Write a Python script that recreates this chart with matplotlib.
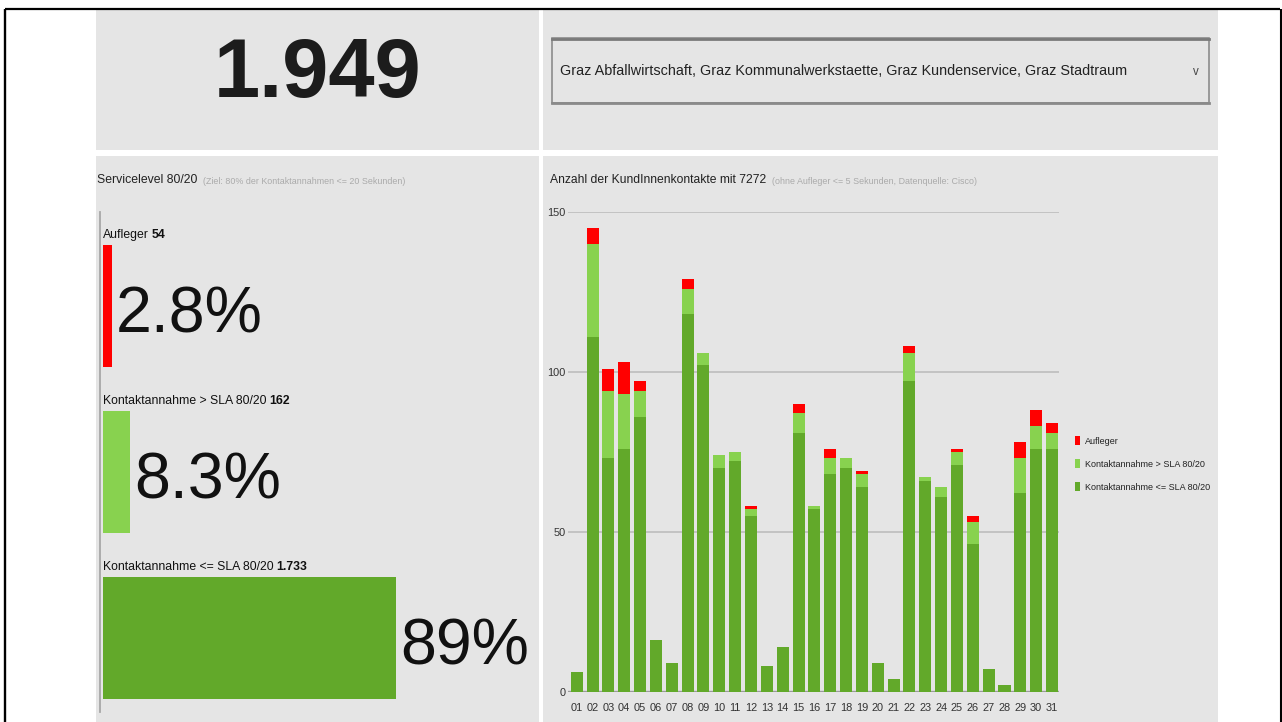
import matplotlib
matplotlib.use('Agg')
import matplotlib.pyplot as plt
from matplotlib.patches import Rectangle, Patch
from matplotlib import font_manager as fm

# ---------------- data ----------------
days = [f"{d:02d}" for d in range(1, 32)]
within_sla = [6, 111, 73, 76, 86, 16, 9, 118, 102, 70, 72, 55, 8, 14, 81, 57,
              68, 70, 64, 9, 4, 97, 66, 61, 71, 46, 7, 2, 62, 76, 76]
over_sla = [0, 29, 21, 17, 8, 0, 0, 8, 4, 4, 3, 2, 0, 0, 6, 1,
            5, 3, 4, 0, 0, 9, 1, 3, 4, 7, 0, 0, 11, 7, 5]
aufleger = [0, 5, 7, 10, 3, 0, 0, 3, 0, 0, 0, 1, 0, 0, 3, 0,
            3, 0, 1, 0, 0, 2, 0, 0, 1, 2, 0, 0, 5, 5, 3]
y_ticks = [0, 50, 100, 150]

series_labels = ['Aufleger', 'Kontaktannahme > SLA 80/20', 'Kontaktannahme <= SLA 80/20']
sla_counts = [54, 162, 1733]
sla_count_labels = ['54', '162', '1.733']
total_label = '1.949'
dropdown_text = 'Graz Abfallwirtschaft, Graz Kommunalwerkstaette, Graz Kundenservice, Graz Stadtraum'
left_title = 'Servicelevel 80/20'
left_sub = '(Ziel: 80% der Kontaktannahmen <= 20 Sekunden)'
right_title = 'Anzahl der KundInnenkontakte mit 7272'
right_sub = '(ohne Aufleger <= 5 Sekunden, Datenquelle: Cisco)'

RED = '#ff0000'
LIGHT = '#88d24f'
DARK = '#62a92a'
PANEL = '#e5e5e5'


def pick(names):
    for n in names:
        try:
            fm.findfont(fm.FontProperties(family=n), fallback_to_default=False)
            return n
        except Exception:
            pass
    return 'DejaVu Sans'


FONT = pick(['Liberation Sans Narrow', 'Arial Narrow', 'Liberation Sans', 'Arimo', 'DejaVu Sans'])
S = 1.0 if 'Narrow' in FONT else 0.83
plt.rcParams['font.family'] = [FONT, 'DejaVu Sans']

W, H = 1282, 722
fig = plt.figure(figsize=(W / 100, H / 100), dpi=100)
fig.patch.set_facecolor('white')


def fx(px):
    return px / W


def fy(py):
    return 1 - py / H


# ---------------- background / panels ----------------
bg = fig.add_axes([0, 0, 1, 1])
bg.set_xlim(0, W)
bg.set_ylim(H, 0)
bg.axis('off')

for (x0, y0, w, h) in [(96, 10, 443, 140), (543, 10, 675, 140),
                       (96, 156, 443, 566), (543, 156, 675, 566)]:
    bg.add_patch(Rectangle((x0, y0), w, h, facecolor=PANEL, edgecolor='none', zorder=0))

# outer black frame
bg.plot([4.5, 1280], [9.3, 9.3], color='black', lw=1.6, solid_capstyle='butt', zorder=5)
bg.plot([4.5, 4.5], [9.3, 722], color='black', lw=1.7, solid_capstyle='butt', zorder=5)
bg.plot([1280.5, 1280.5], [9.3, 722], color='black', lw=1.5, solid_capstyle='butt', zorder=5)

# big total
bg.text(318, 97, total_label, ha='center', va='baseline', fontsize=72 * S,
        fontweight='bold', color='#1c1c1c')

# dropdown
bg.add_patch(Rectangle((552, 38), 657, 65, facecolor='none', edgecolor='#8c8c8c', lw=1.2, zorder=2))
bg.plot([552, 1209], [38.5, 38.5], color='#7a7a7a', lw=2.0, zorder=3)
bg.plot([552, 1209], [102.5, 102.5], color='#8a8a8a', lw=2.0, zorder=3)
bg.text(560, 71, dropdown_text, ha='left', va='center', fontsize=12.5 * S, color='#222')
bg.text(1196, 72, 'v', ha='center', va='center', fontsize=10 * S, color='#444')

# panel titles
t = bg.text(97, 183, left_title, ha='left', va='baseline', fontsize=10.6 * S, color='#222')
bg.annotate(left_sub, xy=(1, 0), xycoords=t, xytext=(6, 0), textcoords='offset pixels',
            ha='left', va='bottom', fontsize=7.7 * S, color='#aaaaaa')
t = bg.text(550, 183, right_title, ha='left', va='baseline', fontsize=10.5 * S, color='#222')
bg.annotate(right_sub, xy=(1, 0), xycoords=t, xytext=(6, 0), textcoords='offset pixels',
            ha='left', va='bottom', fontsize=7.7 * S, color='#aaaaaa')

# left vertical rule
bg.plot([100, 100], [212, 712], color='#a8a8a8', lw=1.3, zorder=2)

# ---------------- left SLA bars ----------------
axl = fig.add_axes([fx(102.5), fy(721.5), fx(432.5) - fx(102.5), fy(223) - fy(721.5)])
axl.axis('off')
axl.set_xlim(0, 100)
axl.set_ylim(2.5, -0.5)
total = sum(sla_counts)
pcts = [c / total * 100 for c in sla_counts]
bh = 0.734
axl.barh(range(len(pcts)), pcts, height=bh, color=[RED, LIGHT, DARK], linewidth=0)
pct_fs = 56 * S
em_px = pct_fs * 100 / 72
for i, (lab, cl, p) in enumerate(zip(series_labels, sla_count_labels, pcts)):
    t1 = axl.annotate(lab, xy=(0, i - bh / 2), xytext=(0.5, 4), textcoords='offset pixels',
                      ha='left', va='bottom', fontsize=10.6 * S, color='#111',
                      annotation_clip=False)
    axl.annotate(cl, xy=(1, 0), xycoords=t1, xytext=(3, 0), textcoords='offset pixels',
                 ha='left', va='bottom', fontsize=10.6 * S, fontweight='bold', color='#111')
    ptxt = f"{p:.1f}%" if p < 10 else f"{p:.0f}%"
    axl.annotate(ptxt, xy=(p, i), xytext=(4, -0.358 * em_px - 3), textcoords='offset pixels',
                 ha='left', va='baseline', fontsize=pct_fs, color='#111',
                 annotation_clip=False)

# ---------------- right stacked bar chart ----------------
ax = fig.add_axes([fx(568), fy(691.5), fx(1059) - fx(568), fy(212) - fy(691.5)])
ax.set_facecolor('none')
xpos = list(range(1, len(days) + 1))
bw = 0.76
mid = [a + b for a, b in zip(within_sla, over_sla)]
ax.bar(xpos, within_sla, width=bw, color=DARK, linewidth=0, zorder=2, label=series_labels[2])
ax.bar(xpos, over_sla, width=bw, bottom=within_sla, color=LIGHT, linewidth=0, zorder=2,
       label=series_labels[1])
ax.bar(xpos, aufleger, width=bw, bottom=mid, color=RED, linewidth=0, zorder=2,
       label=series_labels[0])
ax.set_xlim(0.45, 31.44)
ax.set_ylim(0, 150)
ax.set_yticks(y_ticks)
ax.set_yticklabels([str(v) for v in y_ticks])
ax.set_xticks(xpos)
ax.set_xticklabels(days)
ax.yaxis.grid(True, color='#bdbdbd', lw=1.2)
ax.set_axisbelow(True)
for sp in ax.spines.values():
    sp.set_visible(False)
ax.axhline(0, color='#9a9a9a', lw=2.4, zorder=1.5)
ax.tick_params(axis='both', length=0, labelsize=9.6 * S, labelcolor='#333')
ax.tick_params(axis='y', pad=1.5)
ax.tick_params(axis='x', pad=8.5)

handles = [Patch(facecolor=RED, edgecolor='none', label=series_labels[0]),
           Patch(facecolor=LIGHT, edgecolor='none', label=series_labels[1]),
           Patch(facecolor=DARK, edgecolor='none', label=series_labels[2])]
leg = fig.legend(handles=handles, loc='upper left', bbox_to_anchor=(fx(1075), fy(436)),
                 frameon=False, fontsize=7.8 * S, handlelength=0.6, handleheight=1.2,
                 handletextpad=0.55, labelspacing=1.5, borderpad=0, borderaxespad=0)
for txt in leg.get_texts():
    txt.set_color('#222')

fig.savefig('out.png', dpi=100, facecolor='white')
